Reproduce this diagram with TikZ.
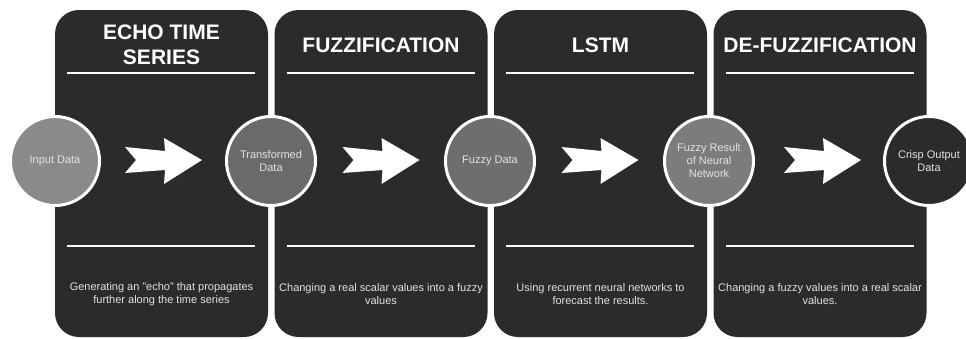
\documentclass[tikz,border=0pt]{standalone}
\usepackage{fontspec}
\setmainfont{Liberation Sans}
\usetikzlibrary{calc}

\definecolor{panelgray}{HTML}{2B2B2B}
\definecolor{txtgray}{HTML}{E2E2E2}
\definecolor{inputgray}{HTML}{8A8A8A}
\definecolor{transgray}{HTML}{6A6A6A}
\definecolor{fuzzgray}{HTML}{6E6E6E}
\definecolor{resgray}{HTML}{7C7C7C}

\tikzset{
  fwd/.pic={\fill[white] (-38,-14) -- (2,-10) -- (1,-23) -- (39,-1) -- (1,23) -- (2,9) -- (-38,12) -- (-27,-1) -- cycle;}
}

\begin{document}
\begin{tikzpicture}[x=1pt,y=-1pt,
  panel/.style={fill=panelgray, rounded corners=24pt},
  rule/.style={draw=white, line width=1.6pt},
  title/.style={text=white, font=\fontsize{21}{25}\selectfont\bfseries, align=center},
  blurb/.style={text=txtgray, font=\fontsize{11}{13}\selectfont, align=center},
  dot/.style={circle, draw=white, line width=3pt, minimum size=89pt, inner sep=0pt, text=txtgray, font=\fontsize{11}{13}\selectfont, align=center}]
\useasboundingbox (0,0) rectangle (966,338);
\clip (0,0) rectangle (966,338);

% panels and rules
\foreach \x/\name in {55/p1, 274.5/p2, 494/p3, 713.5/p4}{
  \fill[panel] (\x,10) rectangle (\x+213,337);
  \coordinate (\name) at (\x+106.5,0);
  \draw[rule] (\x+12,73) -- (\x+200,73);
  \draw[rule] (\x+12,246) -- (\x+200,246);
}

% titles
\node[title] (t1) at ($(p1)+(0,45)$) {ECHO TIME\\SERIES};
\node[title] (t2) at ($(p2)+(0,45)$) {FUZZIFICATION};
\node[title] (t3) at ($(p3)+(0,45)$) {LSTM};
\node[title] (t4) at ($(p4)+(0,45)$) {DE-FUZZIFICATION};

% data circles
\node[dot, fill=inputgray] (inp) at (55,161) {Input Data};
\node[dot, fill=transgray] (trf) at (271,161) {Transformed\\Data};
\node[dot, fill=fuzzgray] (fzd) at (490,161) {Fuzzy Data};
\node[dot, fill=resgray] (res) at (709,161) {Fuzzy Result\\of Neural\\Network};
\node[dot, fill=panelgray] (crs) at (929,161) {Crisp Output\\Data};

% arrows
\path ($(inp)!0.5!(trf)$) pic {fwd};
\path ($(trf)!0.5!(fzd)$) pic {fwd};
\path ($(fzd)!0.5!(res)$) pic {fwd};
\path ($(res)!0.5!(crs)$) pic[xshift=3pt] {fwd};

% descriptions
\node[blurb] (d1) at ($(p1)+(0,294)$) {Generating an "echo" that propagates\\further along the time series};
\node[blurb] (d2) at ($(p2)+(0,294)$) {Changing a real scalar values into a fuzzy\\values};
\node[blurb] (d3) at ($(p3)+(0,294)$) {Using recurrent neural networks to\\forecast the results.};
\node[blurb] (d4) at ($(p4)+(0,294)$) {Changing a fuzzy values into a real scalar\\values.};
\end{tikzpicture}
\end{document}
